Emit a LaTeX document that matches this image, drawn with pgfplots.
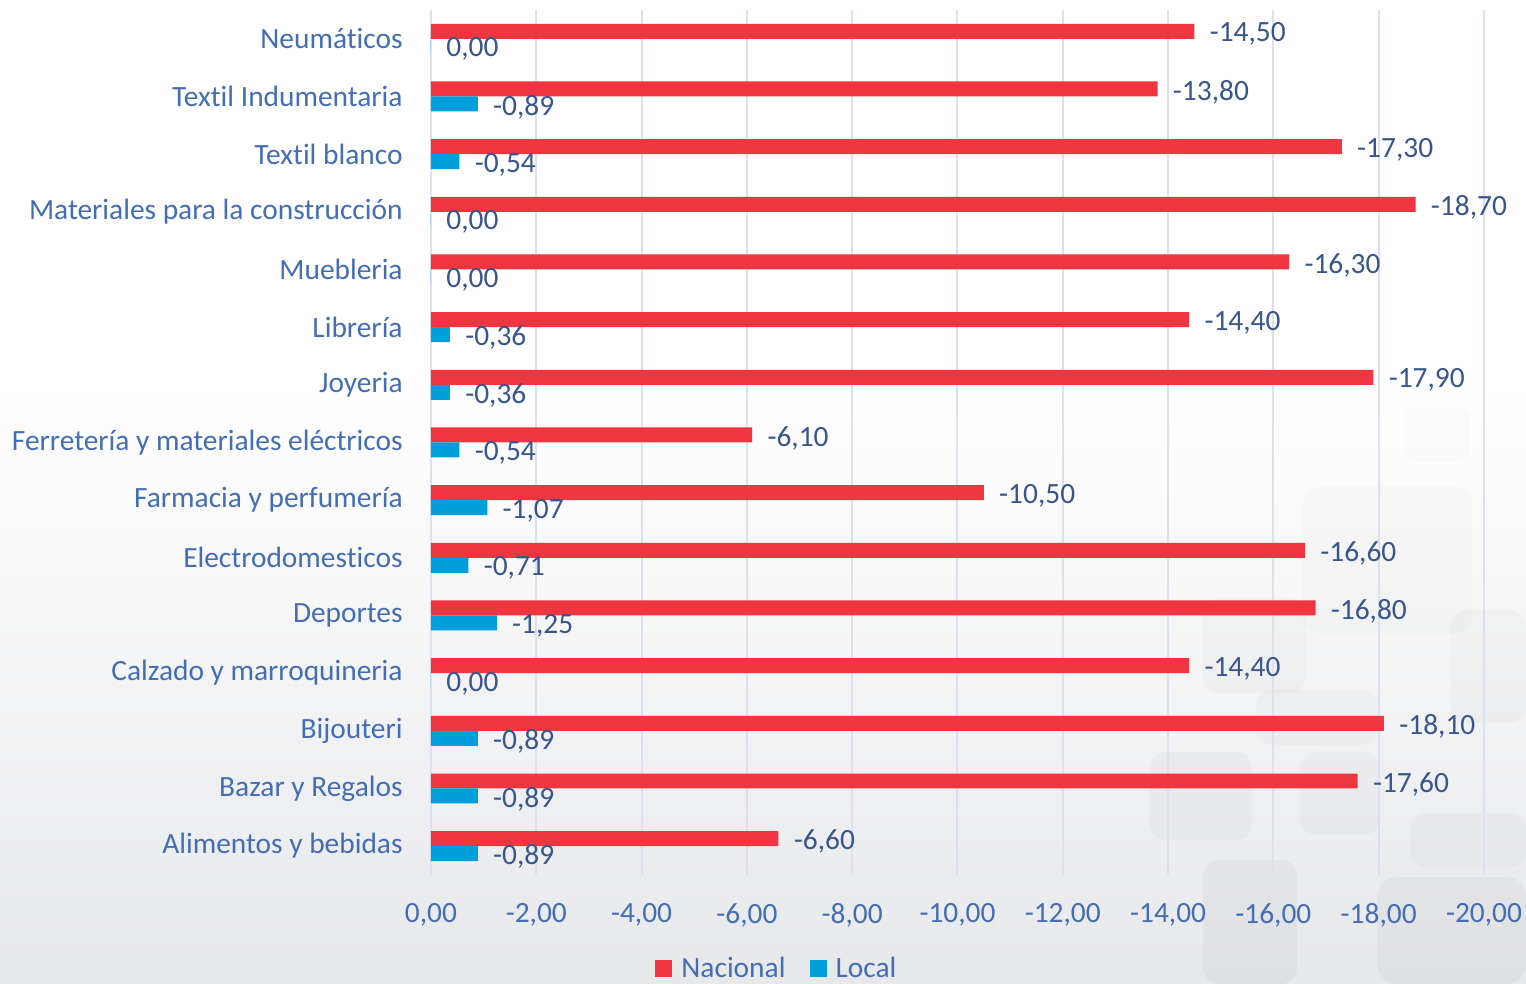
\documentclass[border=0pt]{standalone}
\usepackage{fontspec}
\setmainfont{Carlito}[Ligatures={NoCommon}]
\usepackage{pgfplots}
\pgfplotsset{compat=1.18}
\definecolor{nac}{RGB}{239,54,64}
\definecolor{loc}{RGB}{0,158,219}
\definecolor{lab}{RGB}{68,110,180}
\definecolor{dlab}{RGB}{56,86,140}
\definecolor{gridc}{RGB}{217,225,242}
\definecolor{bgbot}{RGB}{231,232,234}
\newcommand\lf{\fontsize{14.7pt}{17.6pt}\selectfont}
\begin{document}
\begin{tikzpicture}[font=\lf]
\useasboundingbox (0,0) rectangle (763pt,492pt);
\fill[white] (0,0) rectangle (763pt,492pt);
\shade[top color=white, bottom color=bgbot] (0,0) rectangle (763pt,300pt);
\begin{scope}[shift={(0pt,492pt)}, x=0.5pt, y=-0.5pt]
\fill[black, opacity=0.012, rounded corners=6pt] (1403,407) rectangle (1470,462);
\fill[black, opacity=0.015, rounded corners=8pt] (1303,487) rectangle (1472,633);
\fill[black, opacity=0.02, rounded corners=8pt] (1203,598) rectangle (1305,693);
\fill[black, opacity=0.02, rounded corners=8pt] (1256,690) rectangle (1378,745);
\fill[black, opacity=0.02, rounded corners=8pt] (1450,610) rectangle (1526,723);
\fill[black, opacity=0.025, rounded corners=8pt] (1150,752) rectangle (1252,840);
\fill[black, opacity=0.02, rounded corners=8pt] (1300,752) rectangle (1380,835);
\fill[black, opacity=0.02, rounded corners=8pt] (1410,813) rectangle (1526,867);
\fill[black, opacity=0.03, rounded corners=8pt] (1203,860) rectangle (1297,984);
\fill[black, opacity=0.03, rounded corners=10pt] (1377,877) rectangle (1526,984);
\end{scope}
\begin{axis}[
  at={(215.5pt,54.5pt)}, anchor=south west,
  scale only axis, width=526.5pt, height=432.5pt,
  xbar, bar width=0.26,
  x dir=reverse,
  xmin=-20, xmax=0,
  ymin=-0.5, ymax=14.5,
  xtick={-20,-18,...,0},
  ytick={0,...,14},
  yticklabels={Alimentos y bebidas, Bazar y Regalos, Bijouteri, Calzado y marroquineria, Deportes, Electrodomesticos, Farmacia y perfumería, Ferretería y materiales eléctricos, Joyeria, Librería, Muebleria, Materiales para la construcción, Textil blanco, Textil Indumentaria, Neumáticos},
  xmajorgrids, grid style={draw=gridc, line width=1pt},
  axis line style={draw=none},
  major tick length=0pt,
  tick style={draw=none},
  /pgf/number format/.cd, fixed, zerofill, precision=2, use comma, assume math mode=true, /pgfplots/.cd,
  xticklabel style={font=\lf, text=lab, inner sep=0pt, anchor=north, yshift=-14pt},
  yticklabel style={font=\lf, text=lab, inner sep=0pt, anchor=east, xshift=-14pt},
  point meta=x,
  nodes near coords,
  every node near coord/.append style={anchor=west, inner sep=0pt, xshift=7.5pt, yshift=-1.5pt, text=dlab, font=\lf},
  legend columns=2,
  legend style={draw=none, fill=none, at={(0.3295,-0.1081)}, anchor=center, font=\lf, text=lab,
    /tikz/every even column/.append style={column sep=10pt}},
  legend image code/.code={\fill[#1] (0pt,-4.25pt) rectangle (8.5pt,4.25pt); \path (11pt,0pt);},
]
\addplot[fill=nac, draw=none, bar shift=0.13] coordinates {
 (-6.60,0) (-17.60,1) (-18.10,2) (-14.40,3) (-16.80,4) (-16.60,5) (-10.50,6) (-6.10,7)
 (-17.90,8) (-14.40,9) (-16.30,10) (-18.70,11) (-17.30,12) (-13.80,13) (-14.50,14)};
\addplot[fill=loc, draw=none, bar shift=-0.13] coordinates {
 (-0.89,0) (-0.89,1) (-0.89,2) (0.00,3) (-1.25,4) (-0.71,5) (-1.07,6) (-0.54,7)
 (-0.36,8) (-0.36,9) (0.00,10) (0.00,11) (-0.54,12) (-0.89,13) (0.00,14)};
\legend{Nacional, Local}
\end{axis}
\end{tikzpicture}
\end{document}
